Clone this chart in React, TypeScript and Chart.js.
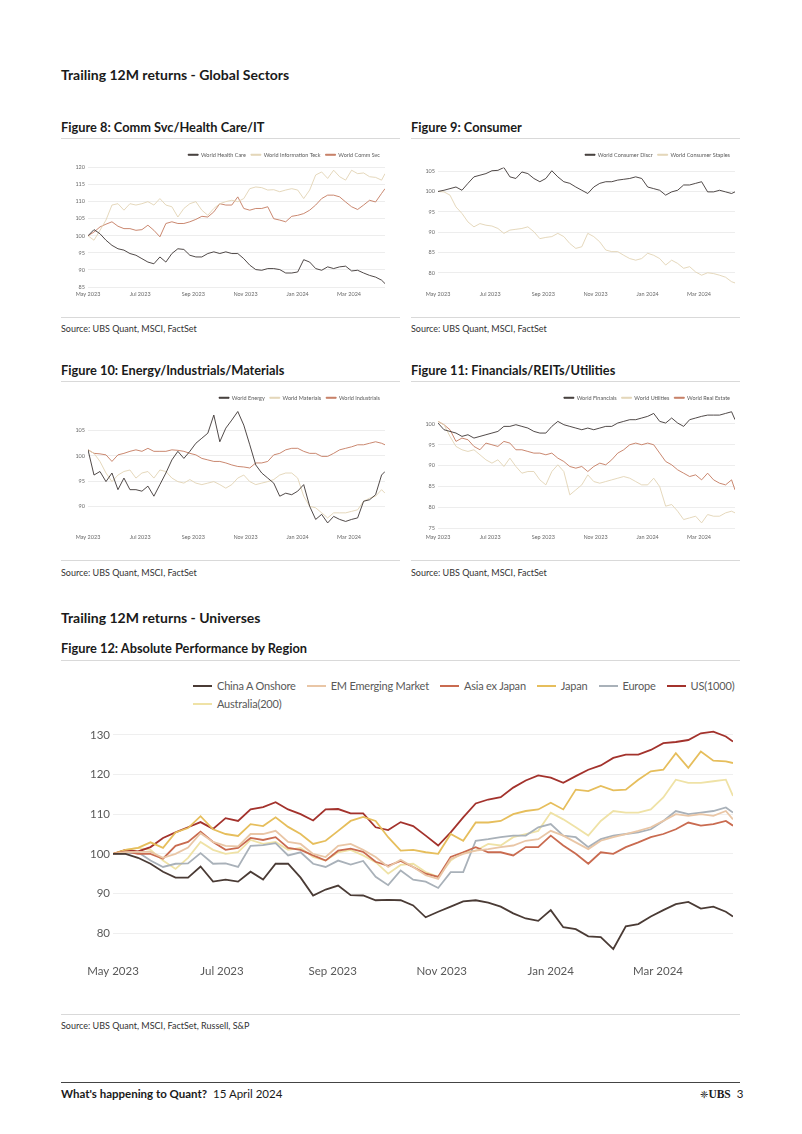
import React, { useEffect, useRef } from "react";
import { Chart, registerables } from "chart.js";

Chart.register(...registerables);
Chart.defaults.font.family = "Lato, 'Open Sans', sans-serif";

// ---------- shared x data (days since 1 May 2023, weekly) ----------
const DAYS = [0, 7, 14, 21, 28, 35, 42, 49, 56, 63, 70, 77, 84, 91, 98, 105, 112, 119, 126, 133, 140, 147, 154, 161, 168, 175, 182, 189, 196, 203, 210, 217, 224, 231, 238, 245, 252, 259, 266, 273, 280, 287, 294, 301, 308, 315, 322, 329, 336, 343, 347];
const X_TICKS = [0, 61, 123, 184, 245, 305];
const X_LABELS = ["May 2023", "Jul 2023", "Sep 2023", "Nov 2023", "Jan 2024", "Mar 2024"];

// ---------- Figure 8 ----------
const F8_NAMES = ["World Health Care", "World Information Teck", "World Comm Svc"];
const F8_HEALTH = [100, 101.8, 100.6, 98.7, 97.2, 96.2, 95.8, 94.8, 94.3, 93.3, 92.3, 91.8, 93.8, 92.3, 94.8, 96.2, 96, 94.3, 93.8, 93.8, 94.8, 95.3, 94.8, 95.3, 94.8, 94.8, 93.3, 91.4, 90.1, 89.9, 90.4, 90.4, 90.1, 89.1, 89.1, 89.4, 93, 92.3, 90.4, 89.9, 90.9, 90.4, 90.9, 91.1, 89.7, 89.9, 89.1, 88.4, 87.9, 87, 86];
const F8_IT = [100, 98.7, 101.6, 104.6, 109, 109.4, 107.5, 109.4, 109, 109.4, 110, 109, 110.9, 109, 108.5, 105.5, 108, 109.4, 110, 107.5, 106, 108, 109.4, 110, 110.4, 110, 110.9, 113.8, 114.3, 114.1, 113.4, 113.5, 112.9, 113.4, 113.8, 113.4, 110.9, 113.4, 117.8, 118.7, 116.8, 119.2, 117.3, 116.3, 119.2, 118.2, 118.4, 117.3, 117.1, 116.3, 118.2];
const F8_COMM = [100, 101.1, 102.6, 103.4, 104.1, 102.8, 102.1, 102.1, 101.6, 101.8, 103.1, 101.6, 99.7, 103.6, 104.1, 103.6, 103.6, 104.1, 104.8, 105.7, 105.5, 107, 109.4, 109, 109, 111.4, 108, 107.5, 108, 108, 108.5, 105, 104.6, 104.1, 105.7, 106, 106.5, 107.5, 109, 110.9, 111.9, 111.9, 111.4, 109.9, 108.5, 107.7, 109, 110.4, 109.9, 112.4, 113.8];
const F8_YTICKS = [85, 90, 95, 100, 105, 110, 115, 120];

// ---------- Figure 9 ----------
const F9_NAMES = ["World Consumer Discr", "World Consumer Staples"];
const F9_DISCR = [100, 100.3, 100.7, 101.1, 100.3, 102, 103.6, 104, 104.4, 105.1, 105.2, 105.9, 103.6, 103.2, 104.8, 104.4, 103.2, 102.4, 103.2, 105.1, 103.6, 102.4, 102, 101.1, 100.3, 99.5, 101.1, 102, 102.4, 102.4, 102.8, 103, 103.2, 103.6, 103.2, 101.1, 100.7, 100.3, 99.1, 99.9, 100.3, 101.6, 101.6, 102, 102.4, 99.9, 99.9, 100.3, 99.9, 99.5, 99.9];
const F9_STAPLES = [100, 99.9, 99.1, 96.2, 94.6, 92.5, 91.3, 92.1, 91.7, 91.5, 90.9, 89.7, 90.5, 90.7, 90.9, 91.3, 90.1, 88.4, 88.7, 88.9, 89.7, 88.9, 87.2, 86, 86.4, 89.7, 88.9, 87.6, 85.6, 85.2, 85.2, 84.3, 83.5, 83.1, 83.5, 84.8, 84.3, 83.5, 81.9, 83.1, 82.3, 81.1, 81.5, 80.2, 79.4, 80, 79.8, 79.4, 78.9, 77.8, 77.5];
const F9_YTICKS = [80, 85, 90, 95, 100, 105];

// ---------- Figure 10 ----------
const F10_NAMES = ["World Energy", "World Materials", "World Industrials"];
const F10_ENERGY = [101.2, 96.2, 96.9, 94.9, 96.6, 93.3, 95.6, 93.3, 93.3, 93, 94, 92, 94.3, 96.6, 99.2, 100.9, 99.5, 100.9, 102.5, 103.5, 104.5, 108.1, 102.8, 105.5, 107.1, 108.8, 106.1, 102.2, 98.2, 96.6, 95.6, 94.6, 92, 92.6, 92.3, 93, 94.3, 90, 87.4, 88.4, 86.7, 88, 87.4, 87, 87.4, 87.7, 91, 91.3, 92.3, 96.2, 96.9];
const F10_MATERIALS = [101.2, 100.5, 98.9, 96.6, 94.9, 96.2, 96.9, 97.2, 95.6, 96.6, 96.9, 95.6, 97.2, 96.9, 95.6, 94.9, 94.6, 95.3, 94.6, 94.3, 94.6, 94.9, 94.3, 93.6, 94.3, 95.6, 96.2, 94.9, 94.3, 94.6, 94.9, 95.3, 96.2, 96.6, 96.6, 95.6, 92, 90, 89.7, 88.7, 87.7, 88.7, 88.7, 88.7, 89, 89.3, 91, 91.6, 92, 93.3, 92.6];
const F10_INDUSTRIALS = [101.2, 100.5, 100.4, 100.2, 98.9, 100.2, 100.5, 100.9, 101.2, 100.9, 101.5, 100.9, 100.9, 100.9, 101.2, 101.1, 100.9, 100.5, 100.2, 99.5, 99.2, 98.9, 98.9, 98.6, 98.2, 97.9, 97.8, 97.6, 98.6, 98.6, 98.9, 100.2, 100.5, 101.2, 101.5, 101.5, 100.9, 100.5, 100.5, 99.9, 99.9, 100.5, 101.2, 101.5, 101.8, 102.2, 102.2, 102.5, 102.8, 102.5, 102.2];
const F10_YTICKS = [90, 95, 100, 105];

// ---------- Figure 11 ----------
const F11_NAMES = ["World Financials", "World Utilities", "World Real Estate"];
const F11_FIN = [100.2, 98.6, 98.2, 97.8, 97, 97.4, 96.6, 97, 97.4, 97.8, 98.2, 99.4, 99.4, 99.8, 99.4, 99, 98.2, 97.8, 97.8, 99.4, 100.6, 99.8, 99.4, 99, 98.6, 99, 98.6, 99, 99.4, 99.4, 100.2, 100.6, 101, 101, 101.4, 101.8, 102.5, 100.6, 100.2, 101.4, 100.2, 99.4, 101, 101.4, 101.8, 102.1, 102.1, 102.1, 102.5, 102.9, 101];
const F11_UTIL = [100.6, 99.8, 97, 94.6, 93.8, 93.4, 93.8, 92.6, 91.4, 90.6, 91.4, 89.8, 91.8, 89.8, 88.2, 88.6, 88.6, 86.6, 85.4, 88.6, 90.2, 88.6, 83, 84.2, 85.4, 87.8, 86.2, 85.8, 86.2, 86.6, 87, 87.4, 87, 86.2, 85.4, 85.4, 87, 85, 80.3, 80.7, 79.1, 77.1, 77.5, 77.9, 76.3, 78.3, 77.9, 77.9, 78.7, 79.1, 78.7];
const F11_RE = [100.6, 99.8, 98.6, 95.8, 96.6, 96.2, 94.6, 93.8, 95.4, 95, 94.6, 95.8, 95.4, 93.8, 93.8, 93.4, 93, 93, 92.6, 93, 91.8, 91, 89.8, 89.4, 89.8, 88.6, 89.8, 90.6, 90.2, 91.4, 93, 93.8, 95, 95.4, 95, 95.4, 95, 93, 91, 90.2, 89, 88.2, 87.4, 87.8, 86.6, 88.2, 86.6, 85.8, 85.4, 86.6, 84.2];
const F11_YTICKS = [75, 80, 85, 90, 95, 100];

// ---------- Figure 12 ----------
const F12_NAMES = ["China A Onshore", "EM Emerging Market", "Asia ex Japan", "Japan", "Europe", "US(1000)", "Australia(200)"];
const F12_CHINA = [100, 100, 99, 97.5, 95.5, 94, 94, 96.8, 93, 93.5, 93, 95.5, 93.5, 97.5, 97.5, 94, 89.5, 91, 92, 89.6, 89.5, 88.3, 88.4, 88.3, 87, 84, 85.4, 86.7, 88, 88.3, 87.7, 86.7, 85, 83.7, 83.1, 85.8, 81.5, 81, 79.2, 79, 76, 81.7, 82.3, 84.2, 85.8, 87.3, 87.9, 86.2, 86.7, 85.4, 84.2];
const F12_EM = [100, 100.4, 100.5, 100.5, 99, 100, 101.6, 105.2, 103, 102, 101.9, 105, 105, 105.8, 103, 102.5, 100, 99.2, 102, 102.5, 101, 99.2, 96.7, 98.5, 96.7, 94.6, 93.7, 98.7, 100, 100.8, 101.2, 101.7, 102.1, 103.3, 103.7, 105.8, 104.6, 102.9, 101.2, 103.3, 104.2, 105, 105.8, 106.7, 108.3, 110, 109.6, 110, 109.6, 110.8, 108.7];
const F12_ASIA = [100, 100.6, 100, 100, 98.8, 102, 103, 105.6, 103, 101, 101.5, 104, 103.5, 104.2, 101.5, 101, 99.6, 98.3, 100.8, 101.3, 100.5, 98, 97, 98.2, 96.7, 95, 94.2, 99.2, 100.4, 101.7, 100.4, 100.4, 99.6, 101.7, 101.7, 104.6, 102.1, 100, 97.5, 100.4, 100, 101.7, 102.9, 104.2, 105, 106.2, 107.9, 107.1, 107.5, 108.3, 107.1];
const F12_JAPAN = [100, 101, 101.5, 102.9, 101.5, 105.4, 106.5, 109.5, 106.2, 105, 104.5, 107.5, 107, 109.2, 106.8, 105, 102.5, 103.3, 105.8, 108.3, 109.3, 108.3, 104.2, 100.8, 101, 100.4, 100, 105, 103.3, 107.9, 107.9, 108.3, 110, 110.8, 111.2, 112.9, 111.2, 116.2, 115.8, 117.1, 116, 116.2, 118.7, 120.8, 121.2, 125.4, 121.7, 125.8, 123.5, 123.3, 122.9];
const F12_EUROPE = [100, 100, 100.4, 98.3, 96.7, 97.5, 97.6, 100.2, 97.5, 97.6, 96.7, 102, 102.2, 102.7, 99.6, 100.4, 97.5, 96.7, 98.3, 97.3, 98.2, 94.2, 92.1, 95.8, 93.5, 93, 91.4, 95.4, 95.4, 103.3, 103.7, 104.2, 104.6, 104.6, 106.7, 107.5, 104.6, 104.2, 101.7, 103.7, 104.6, 105, 105.4, 106.2, 108.3, 110.8, 110, 110.4, 110.8, 111.7, 110.4];
const F12_US = [100, 101, 100.6, 101.7, 104, 105.4, 106.7, 108, 106.3, 109, 108.3, 111.2, 111.8, 113, 111.2, 110, 108.4, 111.2, 111.3, 110.2, 110.2, 106.7, 106, 108, 107, 104.6, 102.1, 105.4, 109.2, 112.7, 113.7, 114.3, 116.7, 118.5, 119.8, 119.2, 117.9, 119.6, 121.2, 122.3, 124.2, 125, 125, 126.2, 127.9, 128.2, 128.7, 130.4, 130.8, 129.6, 128.3];
const F12_AUS = [100, 101, 101.5, 101, 98.3, 96.2, 99, 103, 101, 100, 100.4, 103.5, 102.5, 103, 101, 101.5, 99.2, 98.3, 100.4, 101, 99.6, 97.9, 95, 97.2, 97.5, 95.4, 94.2, 98.3, 100.4, 100.8, 102.5, 102.1, 104.2, 105, 105.8, 110.4, 108.7, 106.7, 104.6, 108.3, 110.8, 110.4, 110.4, 111.2, 114.2, 118.7, 117.9, 117.9, 118.3, 118.7, 114.6];
const F12_YTICKS = [80, 90, 100, 110, 120, 130];

// ---------- colours ----------
const C_DARK = "#3d3634";
const C_BEIGE = "#e2d4b4";
const C_SALMON = "#c47a60";
const F12_COLORS = ["#4a3b35", "#e9c6a6", "#c96b50", "#e6be5c", "#a9b1b9", "#a3322c", "#efe2a6"];

type Series = { name: string; values: number[]; color: string };
type Opts = {
  series: Series[];
  yTicks: number[];
  yMin: number;
  yMax: number;
  lineWidth: number;
  fontSize: number;
  legend: boolean;
  padding: { top: number; right: number; bottom: number; left: number };
  yWidth: number;
  xHeight: number;
  xPad: number;
  yPad: number;
  gridColor: string;
  tickColor: string;
};

function buildConfig(o: Opts): any {
  return {
    type: "line",
    data: {
      datasets: o.series.map((s) => ({
        label: s.name,
        data: DAYS.map((d, i) => ({ x: d, y: s.values[i] })),
        borderColor: s.color,
        backgroundColor: s.color,
        borderWidth: o.lineWidth,
        pointRadius: 0,
        tension: 0,
        fill: false,
      })),
    },
    options: {
      animation: false,
      responsive: false,
      maintainAspectRatio: false,
      layout: { padding: o.padding },
      plugins: {
        tooltip: { enabled: false },
        legend: o.legend
          ? {
              display: true,
              position: "top",
              align: "end",
              labels: {
                boxWidth: 10,
                boxHeight: 1,
                padding: 5,
                color: "#595959",
                font: { size: 5.5 },
              },
            }
          : { display: false },
      },
      scales: {
        x: {
          type: "linear",
          min: 0,
          max: 347,
          grid: { display: false, drawTicks: false },
          border: { display: false },
          afterBuildTicks: (s: any) => {
            s.ticks = X_TICKS.map((v) => ({ value: v }));
          },
          afterFit: (s: any) => {
            s.height = o.xHeight;
          },
          ticks: {
            autoSkip: false,
            maxRotation: 0,
            padding: o.xPad,
            color: o.tickColor,
            font: { size: o.fontSize },
            callback: (_v: any, i: number) => X_LABELS[i],
          },
        },
        y: {
          type: "linear",
          min: o.yMin,
          max: o.yMax,
          grid: { color: o.gridColor, drawTicks: false, lineWidth: 1 },
          border: { display: false },
          afterBuildTicks: (s: any) => {
            s.ticks = o.yTicks.map((v) => ({ value: v }));
          },
          afterFit: (s: any) => {
            s.width = o.yWidth;
          },
          ticks: {
            padding: o.yPad,
            color: o.tickColor,
            font: { size: o.fontSize },
          },
        },
      },
    },
  };
}

function ChartBox(props: { opts: Opts; left: number; top: number; width: number; height: number }) {
  const ref = useRef<HTMLCanvasElement | null>(null);
  useEffect(() => {
    if (!ref.current) return;
    const chart = new Chart(ref.current, buildConfig(props.opts));
    return () => chart.destroy();
  }, []);
  return (
    <canvas
      ref={ref}
      width={props.width}
      height={props.height}
      style={{ position: "absolute", left: props.left, top: props.top, width: props.width, height: props.height }}
    />
  );
}

const smallBase = {
  lineWidth: 0.9,
  fontSize: 5.5,
  legend: true,
  padding: { top: 7, right: 15, bottom: 0, left: 0 },
  yWidth: 28,
  xHeight: 13,
  xPad: 4,
  yPad: 3,
  gridColor: "#ededed",
  tickColor: "#6b6b6b",
};

const fig8: Opts = {
  ...smallBase,
  series: [
    { name: F8_NAMES[0], values: F8_HEALTH, color: C_DARK },
    { name: F8_NAMES[1], values: F8_IT, color: C_BEIGE },
    { name: F8_NAMES[2], values: F8_COMM, color: C_SALMON },
  ],
  yTicks: F8_YTICKS,
  yMin: 85,
  yMax: 120,
};
const fig9: Opts = {
  ...smallBase,
  series: [
    { name: F9_NAMES[0], values: F9_DISCR, color: C_DARK },
    { name: F9_NAMES[1], values: F9_STAPLES, color: C_BEIGE },
  ],
  yTicks: F9_YTICKS,
  yMin: 76.5,
  yMax: 105.9,
};
const fig10: Opts = {
  ...smallBase,
  series: [
    { name: F10_NAMES[0], values: F10_ENERGY, color: C_DARK },
    { name: F10_NAMES[1], values: F10_MATERIALS, color: C_BEIGE },
    { name: F10_NAMES[2], values: F10_INDUSTRIALS, color: C_SALMON },
  ],
  yTicks: F10_YTICKS,
  yMin: 85.3,
  yMax: 109,
};
const fig11: Opts = {
  ...smallBase,
  series: [
    { name: F11_NAMES[0], values: F11_FIN, color: C_DARK },
    { name: F11_NAMES[1], values: F11_UTIL, color: C_BEIGE },
    { name: F11_NAMES[2], values: F11_RE, color: C_SALMON },
  ],
  yTicks: F11_YTICKS,
  yMin: 74.6,
  yMax: 103.2,
};
const F12_VALUES = [F12_CHINA, F12_EM, F12_ASIA, F12_JAPAN, F12_EUROPE, F12_US, F12_AUS];
const fig12: Opts = {
  series: F12_NAMES.map((n, i) => ({ name: n, values: F12_VALUES[i], color: F12_COLORS[i] })),
  yTicks: F12_YTICKS,
  yMin: 75,
  yMax: 131.25,
  lineWidth: 1.8,
  fontSize: 11.5,
  legend: false,
  padding: { top: 8, right: 7, bottom: 0, left: 0 },
  yWidth: 53,
  xHeight: 37,
  xPad: 11,
  yPad: 3,
  gridColor: "#efefef",
  tickColor: "#595959",
};

const txt = (left: number, top: number, size: number, bold: boolean, text: React.ReactNode, extra: any = {}) => (
  <div
    style={{
      position: "absolute",
      left,
      top,
      fontSize: size,
      lineHeight: `${size}px`,
      fontWeight: bold ? 700 : 400,
      color: "#1a1a1a",
      whiteSpace: "nowrap",
      ...extra,
    }}
  >
    {text}
  </div>
);

const rule = (left: number, top: number, width: number, color = "#d9d9d9") => (
  <div style={{ position: "absolute", left, top, width, height: 1, background: color }} />
);

function LegendItem(props: { name: string; color: string }) {
  return (
    <div style={{ display: "flex", alignItems: "center", marginRight: 11 }}>
      <div style={{ width: 19, height: 2, background: props.color, marginRight: 5 }} />
      <span>{props.name}</span>
    </div>
  );
}

export default function App() {
  const src = "Source: UBS Quant, MSCI, FactSet";
  return (
    <div
      style={{
        position: "absolute",
        left: 0,
        top: 0,
        width: 802,
        height: 1134,
        background: "#ffffff",
        fontFamily: "Lato, 'Open Sans', sans-serif",
        overflow: "hidden",
      }}
    >
      {txt(61, 68, 14, true, "Trailing 12M returns - Global Sectors")}

      {txt(61, 120.5, 12.8, true, "Figure 8: Comm Svc/Health Care/IT")}
      {rule(61, 138, 339)}
      {txt(411, 120.5, 12.8, true, "Figure 9: Consumer")}
      {rule(411, 138, 329)}
      <ChartBox opts={fig8} left={60} top={140} width={340} height={160} />
      <ChartBox opts={fig9} left={410} top={140} width={340} height={160} />
      {rule(61, 317, 339)}
      {rule(411, 317, 329)}
      {txt(61, 323.5, 9, false, src, { color: "#333" })}
      {txt(411, 323.5, 9, false, src, { color: "#333" })}

      {txt(61, 363.5, 12.8, true, "Figure 10: Energy/Industrials/Materials")}
      {rule(61, 381, 339)}
      {txt(411, 363.5, 12.8, true, "Figure 11: Financials/REITs/Utilities")}
      {rule(411, 381, 329)}
      <ChartBox opts={fig10} left={60} top={383} width={340} height={160} />
      <ChartBox opts={fig11} left={410} top={383} width={340} height={160} />
      {rule(61, 560, 339)}
      {rule(411, 560, 329)}
      {txt(61, 567.5, 9, false, src, { color: "#333" })}
      {txt(411, 567.5, 9, false, src, { color: "#333" })}

      {txt(61, 611, 14, true, "Trailing 12M returns - Universes")}
      {txt(61, 641.5, 12.8, true, "Figure 12: Absolute Performance by Region")}
      {rule(61, 660, 679)}

      <div
        style={{
          position: "absolute",
          left: 193,
          top: 679,
          fontSize: 11,
          letterSpacing: "-0.2px",
          lineHeight: "14px",
          color: "#595959",
        }}
      >
        <div style={{ display: "flex" }}>
          {F12_NAMES.slice(0, 6).map((n, i) => (
            <LegendItem key={n} name={n} color={F12_COLORS[i]} />
          ))}
        </div>
        <div style={{ display: "flex", marginTop: 4 }}>
          <LegendItem name={F12_NAMES[6]} color={F12_COLORS[6]} />
        </div>
      </div>
      <ChartBox opts={fig12} left={60} top={720} width={680} height={270} />
      {rule(61, 1014, 679)}
      {txt(61, 1020.5, 9, false, "Source: UBS Quant, MSCI, FactSet, Russell, S&P", { color: "#333" })}

      {rule(61, 1082, 679, "#444")}
      {txt(61, 1088, 11.5, false, <><b>What's happening to Quant?</b>&nbsp; 15 April 2024</>)}
      {txt(700, 1088, 11.5, false, <><span style={{ fontFamily: "'DejaVu Sans'", fontSize: 10 }}>❈</span><span style={{ fontFamily: "'Liberation Serif', serif", fontWeight: 700 }}>UBS</span>&nbsp;&nbsp;3</>)}
    </div>
  );
}
